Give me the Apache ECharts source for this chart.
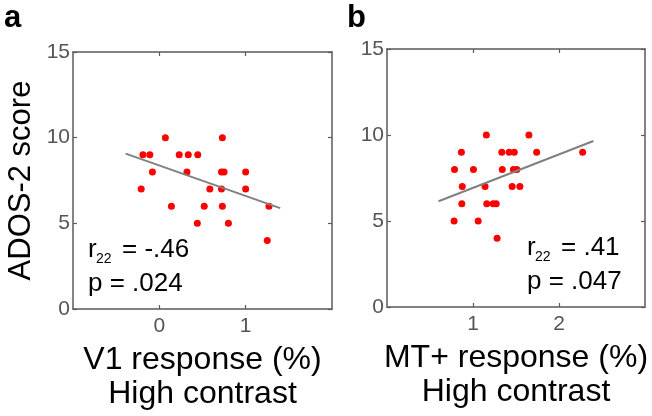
<!DOCTYPE html>
<html>
<head>
<meta charset="utf-8">
<script src="https://cdn.jsdelivr.net/npm/echarts@6/dist/echarts.min.js"></script>
<style>
html,body{margin:0;padding:0;background:#fff;}
#c{width:652px;height:416px;}
</style>
</head>
<body>
<div id="c"></div>
<script>
// ---- data ----
const v1X = [0.07, 0.73, -0.19, -0.11, 0.23, 0.335, 0.445, -0.08, 0.32, 0.72, 0.75, 1.0, -0.21, 0.585, 0.72, 1.0, 0.14, 0.52, 0.73, 1.27, 0.44, 0.80, 1.25];
const v1Y = [10, 10, 9, 9, 9, 9, 9, 8, 8, 8, 8, 8, 7, 7, 7, 7, 6, 6, 6, 6, 5, 5, 4];
const v1FitX = [-0.39, 1.40];
const v1FitY = [9.07, 5.89];

const mtX = [1.155, 1.65, 0.865, 1.335, 1.42, 1.48, 1.74, 2.275, 0.785, 1.005, 1.34, 1.47, 1.51, 0.875, 1.14, 1.455, 1.545, 0.87, 1.16, 1.235, 1.27, 0.78, 1.06, 1.28];
const mtY = [10, 10, 9, 9, 9, 9, 9, 9, 8, 8, 8, 8, 8, 7, 7, 7, 7, 6, 6, 6, 6, 5, 5, 4];
const mtFitX = [0.60, 2.40];
const mtFitY = [6.15, 9.65];

const yTicks = [0, 5, 10, 15];
const v1Ticks = [0, 1];
const mtTicks = [1, 2];

const yTitle = 'ADOS-2 score';
const v1Title = 'V1 response (%)\nHigh contrast';
const mtTitle = 'MT+ response (%)\nHigh contrast';
const statsA = {r: '= -.46', p: 'p = .024'};
const statsB = {r: '= .41', p: 'p = .047'};

// ---- helpers ----
const FONT = 'Arial, "Liberation Sans", Helvetica, sans-serif';
const AX = '#5a5a5a';
const LBL = '#555555';
function pairs(xs, ys){ return xs.map((x,i)=>[x, ys[i]]); }

function xAxes(gi, min, max, ticks, name){
  return [
    {gridIndex: gi, type:'value', min, max, interval:1, position:'bottom',
     axisLine:{show:true, onZero:false, lineStyle:{color:AX, width:1.5}},
     axisTick:{show:true, inside:true, length:4, customValues:ticks, lineStyle:{color:AX, width:1.2}},
     axisLabel:{show:true, customValues:ticks, color:LBL, fontSize:21, fontFamily:FONT, margin:7},
     splitLine:{show:false},
     name, nameLocation:'middle', nameGap:34,
     nameTextStyle:{color:'#000', fontSize:32, fontFamily:FONT, lineHeight:34}},
    {gridIndex: gi, type:'value', min, max, interval:1, position:'top',
     axisLine:{show:true, onZero:false, lineStyle:{color:AX, width:1.5}},
     axisTick:{show:true, inside:true, length:4, customValues:ticks, lineStyle:{color:AX, width:1.2}},
     axisLabel:{show:false}, splitLine:{show:false}}
  ];
}
function yAxes(gi, withName){
  const base = {
    gridIndex: gi, type:'value', min:0, max:15, interval:5, position:'left',
    axisLine:{show:true, onZero:false, lineStyle:{color:AX, width:1.5}},
    axisTick:{show:true, inside:true, length:4, customValues:yTicks, lineStyle:{color:AX, width:1.2}},
    axisLabel:{show:true, customValues:yTicks, color:LBL, fontSize:21, fontFamily:FONT, margin:3},
    splitLine:{show:false}
  };
  if (withName){
    Object.assign(base, {name: yTitle, nameLocation:'middle', nameGap:36,
      nameTextStyle:{color:'#000', fontSize:31, fontFamily:FONT}});
  }
  return [base,
    {gridIndex: gi, type:'value', min:0, max:15, interval:5, position:'right',
     axisLine:{show:true, onZero:false, lineStyle:{color:AX, width:1.5}},
     axisTick:{show:true, inside:true, length:4, customValues:yTicks, lineStyle:{color:AX, width:1.2}},
     axisLabel:{show:false}, splitLine:{show:false}}];
}

function txt(x, y, text, size, bold){
  return {type:'text', x, y, silent:true,
    style:{text, font:(bold?'bold ':'') + size + 'px ' + FONT, fill:'#000',
           textAlign:'left', textVerticalAlign:'middle'}};
}

const chart = echarts.init(document.getElementById('c'), null, {renderer:'canvas'});
chart.setOption({
  animation:false,
  backgroundColor:'#fff',
  grid:[
    {left:73, top:52, width:259, height:259},
    {left:387, top:49, width:258, height:258}
  ],
  xAxis:[...xAxes(0, -1, 2, v1Ticks, v1Title), ...xAxes(1, 0, 3, mtTicks, mtTitle)],
  yAxis:[...yAxes(0, true), ...yAxes(1, false)],
  series:[
    {type:'scatter', xAxisIndex:0, yAxisIndex:0, data:pairs(v1X, v1Y),
     symbol:'circle', symbolSize:7, itemStyle:{color:'#ff0000', opacity:1}},
    {type:'line', xAxisIndex:0, yAxisIndex:0, data:pairs(v1FitX, v1FitY),
     showSymbol:false, symbol:'none', lineStyle:{color:'#808080', width:2}},
    {type:'scatter', xAxisIndex:2, yAxisIndex:2, data:pairs(mtX, mtY),
     symbol:'circle', symbolSize:7, itemStyle:{color:'#ff0000', opacity:1}},
    {type:'line', xAxisIndex:2, yAxisIndex:2, data:pairs(mtFitX, mtFitY),
     showSymbol:false, symbol:'none', lineStyle:{color:'#808080', width:2}}
  ],
  graphic:[
    txt(4, 18, 'a', 31, true),
    txt(347, 18, 'b', 31, true),
    txt(88, 250, 'r', 26), txt(96, 259, '22', 14), txt(122, 250, statsA.r, 26),
    txt(88, 284, statsA.p, 26),
    txt(527, 248, 'r', 26), txt(535, 257, '22', 14), txt(561, 248, statsB.r, 26),
    txt(527, 282, statsB.p, 26)
  ]
});
</script>
</body>
</html>
